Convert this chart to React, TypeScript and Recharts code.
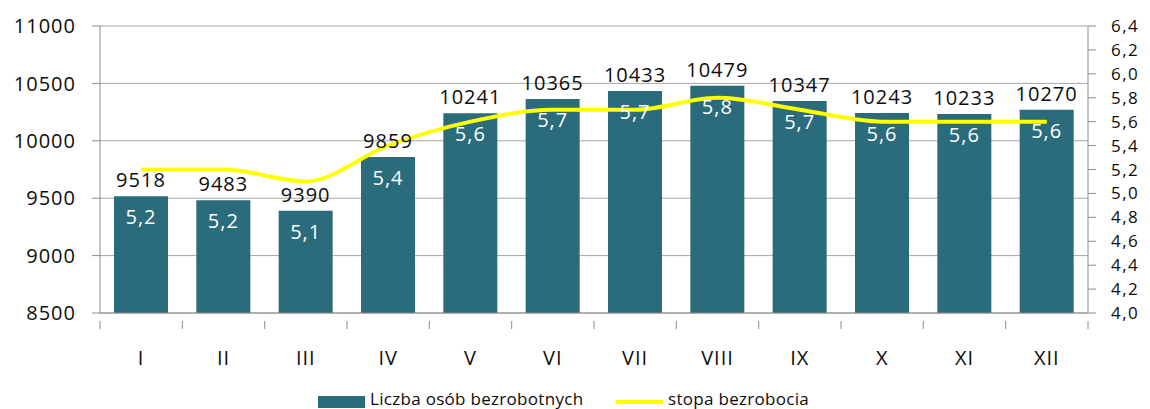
import React from 'react';
import { ComposedChart, Bar, Line, XAxis, YAxis, CartesianGrid, LabelList } from 'recharts';

const months = ['I', 'II', 'III', 'IV', 'V', 'VI', 'VII', 'VIII', 'IX', 'X', 'XI', 'XII'];
const unemployed = [9518, 9483, 9390, 9859, 10241, 10365, 10433, 10479, 10347, 10243, 10233, 10270];
const rate = [5.2, 5.2, 5.1, 5.4, 5.6, 5.7, 5.7, 5.8, 5.7, 5.6, 5.6, 5.6];
const leftTicks = [8500, 9000, 9500, 10000, 10500, 11000];
const rightTicks = [4.0, 4.2, 4.4, 4.6, 4.8, 5.0, 5.2, 5.4, 5.6, 5.8, 6.0, 6.2, 6.4];

const data = months.map((m, i) => ({ month: m, unemployed: unemployed[i], rate: rate[i] }));

const FONT = '"Open Sans", sans-serif';
const BAR_COLOR = '#2A6B7C';
const LINE_COLOR = '#FFFF00';
const AXIS_COLOR = '#8C8C8C';
const TEXT_COLOR = '#0d0d0d';

const W = 1150;
const H = 409;
const LEFT_W = 100;
const RIGHT_W = 62;
const TOP = 26;
const XAXIS_H = 96;
const PLOT_W = W - LEFT_W - RIGHT_W;

const comma = (v: any) => Number(v).toFixed(1).replace('.', ',');

const XTick = (props: any) => {
  const { x, y, payload, index } = props;
  const half = payload && payload.offset ? payload.offset : PLOT_W / months.length / 2;
  return (
    <g>
      <line x1={x - half} x2={x - half} y1={y} y2={y + 8} stroke={AXIS_COLOR} strokeWidth={1} />
      {index === months.length - 1 && (
        <line x1={x + half} x2={x + half} y1={y} y2={y + 8} stroke={AXIS_COLOR} strokeWidth={1} />
      )}
      <text x={x} y={y + 44} textAnchor="middle" fontSize={20} fontFamily={FONT} fill={TEXT_COLOR} letterSpacing={1}>
        {payload.value}
      </text>
    </g>
  );
};

export default function App() {
  return (
    <div style={{ position: 'absolute', left: 0, top: 0, width: W, height: H, background: '#fff', fontFamily: FONT, overflow: 'hidden' }}>
      <ComposedChart width={W} height={H} data={data} margin={{ top: TOP, right: 0, bottom: 0, left: 0 }} barCategoryGap="17%">
        <CartesianGrid vertical={false} stroke="#A6A6A6" yAxisId="left" />
        <XAxis
          dataKey="month"
          height={XAXIS_H}
          axisLine={{ stroke: AXIS_COLOR }}
          tickLine={false}
          tick={<XTick />}
          interval={0}
        />
        <YAxis
          yAxisId="left"
          width={LEFT_W}
          domain={[8500, 11000]}
          ticks={leftTicks}
          interval={0}
          tickSize={8}
          tickMargin={16}
          axisLine={{ stroke: AXIS_COLOR }}
          tickLine={{ stroke: AXIS_COLOR }}
          tick={{ fontSize: 20, fill: TEXT_COLOR, fontFamily: FONT, letterSpacing: 1 }}
        />
        <YAxis
          yAxisId="right"
          orientation="right"
          width={RIGHT_W}
          domain={[4, 6.4]}
          ticks={rightTicks}
          interval={0}
          tickSize={8}
          tickMargin={15}
          tickFormatter={comma}
          axisLine={{ stroke: AXIS_COLOR }}
          tickLine={{ stroke: AXIS_COLOR }}
          tick={{ fontSize: 17, fill: TEXT_COLOR, fontFamily: FONT, letterSpacing: 1.5 }}
        />
        <Bar yAxisId="left" dataKey="unemployed" fill={BAR_COLOR} isAnimationActive={false}>
          <LabelList dataKey="unemployed" position="top" offset={9} fontSize={20} fill={TEXT_COLOR} fontFamily={FONT} letterSpacing={1} />
          <LabelList dataKey="rate" position="insideTop" offset={14} fontSize={20} fill="#ffffff" fontFamily={FONT} letterSpacing={1} formatter={comma} />
        </Bar>
        <Line
          yAxisId="right"
          type="monotone"
          dataKey="rate"
          stroke={LINE_COLOR}
          strokeWidth={4}
          dot={false}
          activeDot={false}
          isAnimationActive={false}
        />
      </ComposedChart>
      <div style={{ position: 'absolute', left: 318, top: 396, width: 47, height: 12, background: BAR_COLOR }} />
      <div style={{ position: 'absolute', left: 370, top: 390, fontSize: 17, lineHeight: '18px', color: TEXT_COLOR, whiteSpace: 'nowrap', letterSpacing: 0.3 }}>
        Liczba osób bezrobotnych
      </div>
      <div style={{ position: 'absolute', left: 616, top: 400, width: 47, height: 4, background: LINE_COLOR }} />
      <div style={{ position: 'absolute', left: 668, top: 390, fontSize: 17, lineHeight: '18px', color: TEXT_COLOR, whiteSpace: 'nowrap', letterSpacing: 0.3 }}>
        stopa bezrobocia
      </div>
    </div>
  );
}
